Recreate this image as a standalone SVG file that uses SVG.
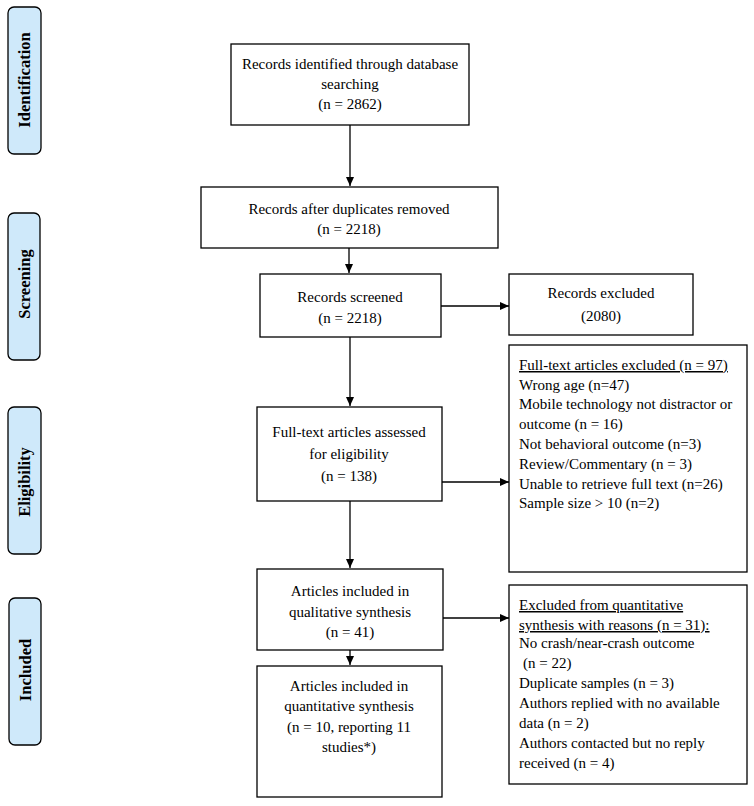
<svg xmlns="http://www.w3.org/2000/svg" width="754" height="806" viewBox="0 0 754 806">
<style>
.box{fill:#fff;stroke:#000;stroke-width:1.3}
.side{fill:#cfe9fa;stroke:#000;stroke-width:1.3}
.t{font-family:"Liberation Serif","Times New Roman",serif;font-size:15px;fill:#000}
.c{text-anchor:middle}
.s{font-family:"Liberation Serif","Times New Roman",serif;font-size:16.5px;font-weight:bold;fill:#000;text-anchor:middle}
.u{text-decoration:underline}
.ln{stroke:#000;stroke-width:1.3;fill:none}
</style>
<defs>
<marker id="ah" markerWidth="10" markerHeight="8" refX="9" refY="4" orient="auto" markerUnits="userSpaceOnUse">
<path d="M0,0 L9,4 L0,8 Z" fill="#000"/>
</marker>
</defs>
<rect width="754" height="806" fill="#fff"/>

<g id="side-identification">
<rect class="side" x="8" y="7" width="33" height="147" rx="6"/>
<text class="s" transform="translate(30,80) rotate(-90)">Identification</text>
</g>
<g id="side-screening">
<rect class="side" x="8" y="213" width="32" height="147" rx="6"/>
<text class="s" transform="translate(30,284) rotate(-90)">Screening</text>
</g>
<g id="side-eligibility">
<rect class="side" x="8" y="407" width="33" height="147" rx="6"/>
<text class="s" transform="translate(30,482) rotate(-90)">Eligibility</text>
</g>
<g id="side-included">
<rect class="side" x="9" y="598" width="32" height="147" rx="6"/>
<text class="s" transform="translate(31,670) rotate(-90)">Included</text>
</g>

<g id="connectors">
<line class="ln" x1="350" y1="125" x2="350" y2="186" marker-end="url(#ah)"/>
<line class="ln" x1="349" y1="248" x2="349" y2="273" marker-end="url(#ah)"/>
<line class="ln" x1="441" y1="306" x2="509" y2="306" marker-end="url(#ah)"/>
<line class="ln" x1="350" y1="337" x2="350" y2="406" marker-end="url(#ah)"/>
<line class="ln" x1="442" y1="482" x2="509" y2="482" marker-end="url(#ah)"/>
<line class="ln" x1="350" y1="501" x2="350" y2="568" marker-end="url(#ah)"/>
<line class="ln" x1="443" y1="618" x2="509" y2="618" marker-end="url(#ah)"/>
<line class="ln" x1="350" y1="650" x2="350" y2="665" marker-end="url(#ah)"/>
</g>

<g id="identified">
<rect class="box" x="231" y="44" width="238" height="81"/>
<text class="t c" x="350" y="69">Records identified through database</text>
<text class="t c" x="350" y="89">searching</text>
<text class="t c" x="350" y="109">(n = 2862)</text>
</g>
<g id="duplicates">
<rect class="box" x="201" y="187" width="297" height="61"/>
<text class="t c" x="349" y="214">Records after duplicates removed</text>
<text class="t c" x="349" y="234">(n = 2218)</text>
</g>
<g id="screened">
<rect class="box" x="260" y="274" width="181" height="63"/>
<text class="t c" x="350" y="302">Records screened</text>
<text class="t c" x="350" y="323">(n = 2218)</text>
</g>
<g id="excluded">
<rect class="box" x="509" y="274" width="184" height="61"/>
<text class="t c" x="601" y="298">Records excluded</text>
<text class="t c" x="601" y="321">(2080)</text>
</g>
<g id="fulltext">
<rect class="box" x="257" y="407" width="185" height="94"/>
<text class="t c" x="349" y="437">Full-text articles assessed</text>
<text class="t c" x="349" y="459">for eligibility</text>
<text class="t c" x="349" y="481">(n = 138)</text>
</g>
<g id="fulltext-excluded">
<rect class="box" x="509" y="345" width="238" height="227"/>
<text class="t u" x="519" y="370">Full-text articles excluded (n = 97)</text>
<text class="t" x="519" y="390">Wrong age (n=47)</text>
<text class="t" x="519" y="409">Mobile technology not distractor or</text>
<text class="t" x="519" y="429">outcome (n = 16)</text>
<text class="t" x="519" y="449">Not behavioral outcome (n=3)</text>
<text class="t" x="519" y="469">Review/Commentary (n = 3)</text>
<text class="t" x="519" y="489">Unable to retrieve full text (n=26)</text>
<text class="t" x="519" y="508">Sample size &gt; 10 (n=2)</text>
</g>
<g id="qualitative">
<rect class="box" x="257" y="569" width="186" height="81"/>
<text class="t c" x="350" y="596">Articles included in</text>
<text class="t c" x="350" y="617">qualitative synthesis</text>
<text class="t c" x="350" y="637">(n = 41)</text>
</g>
<g id="quant-excluded">
<rect class="box" x="509" y="585" width="238" height="199"/>
<text class="t u" x="519" y="610">Excluded from quantitative</text>
<text class="t u" x="519" y="630">synthesis with reasons (n = 31):</text>
<text class="t" x="519" y="648">No crash/near-crash outcome</text>
<text class="t" x="523" y="668">(n = 22)</text>
<text class="t" x="519" y="688">Duplicate samples (n = 3)</text>
<text class="t" x="519" y="708">Authors replied with no available</text>
<text class="t" x="519" y="728">data (n = 2)</text>
<text class="t" x="519" y="748">Authors contacted but no reply</text>
<text class="t" x="519" y="768">received (n = 4)</text>
</g>
<g id="quantitative">
<rect class="box" x="257" y="666" width="185" height="131"/>
<text class="t c" x="349" y="691">Articles included in</text>
<text class="t c" x="349" y="711">quantitative synthesis</text>
<text class="t c" x="349" y="732">(n = 10, reporting 11</text>
<text class="t c" x="349" y="752">studies*)</text>
</g>
</svg>
